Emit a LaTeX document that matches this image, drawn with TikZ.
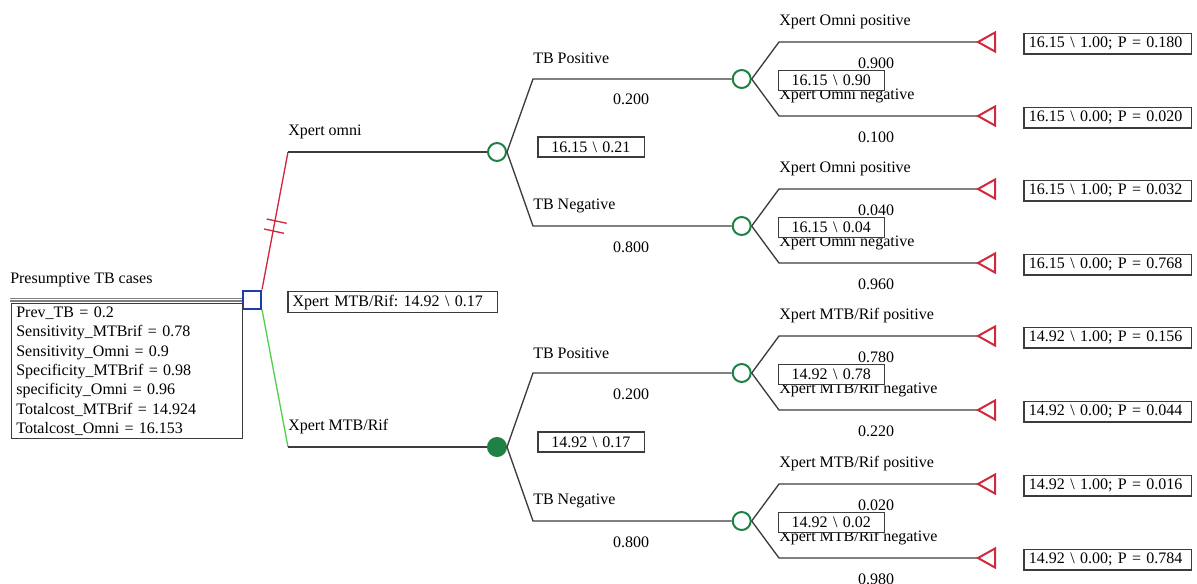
\documentclass[tikz,border=0pt]{standalone}
\usepackage{fontspec}
\setmainfont{Liberation Serif}
\frenchspacing
\definecolor{treegray}{RGB}{60,60,60}
\definecolor{cred}{RGB}{210,40,62}
\definecolor{lgreen}{RGB}{80,210,80}
\definecolor{cgreen}{RGB}{30,130,70}
\definecolor{cblue}{RGB}{30,60,170}
\begin{document}
\begin{tikzpicture}[x=0.75pt,y=-0.75pt,
  every node/.style={font=\fontsize{12}{14.5}\selectfont},
  tline/.style={draw=treegray,line width=1pt},
  chance/.style={circle,draw=cgreen,fill=white,line width=1.5pt,minimum size=13.5pt,inner sep=0pt},
  chancefill/.style={chance,fill=cgreen},
  decis/.style={rectangle,draw=cblue,fill=white,line width=1.5pt,minimum size=13.5pt,inner sep=0pt},
  termst/.style={draw=cred,line width=1.5pt,line join=miter},
  lbl/.style={inner sep=0pt,anchor=west},
  prob/.style={inner sep=0pt},
  resbox/.style={draw=treegray,fill=white,line width=1pt,anchor=west,inner xsep=3.75pt,inner ysep=0pt,text width=118.3pt,align=left,minimum height=15.5pt},
  valbox/.style={draw=treegray,fill=white,line width=1pt,anchor=west,inner xsep=10pt,inner ysep=0pt,text width=59.7pt,align=left,minimum height=15pt},
]
\useasboundingbox (0,0) rectangle (1197,583);

% ---- level-two chance subtree macro
\newcommand\lvtwo[9]{%
  \node[chance] (#1) at (741.7,#2) {};
  \coordinate (#1ku) at (779,#2-37);
  \coordinate (#1kd) at (779,#2+37);
  \coordinate (#1tu) at (978,#2-37);
  \coordinate (#1td) at (978,#2+37);
  \draw[tline] (#1.east) -- (#1ku) -- (#1tu);
  \draw[tline] (#1.east) -- (#1kd) -- (#1td);
  \draw[termst] (#1tu) -- ++(17,-9.5) -- ++(0,19) -- cycle;
  \draw[termst] (#1td) -- ++(17,-9.5) -- ++(0,19) -- cycle;
  \node[lbl] (#1lu) at (779,#2-57) {#3};
  \node[prob] (#1pu) at (876,#2-16) {#4};
  \node[lbl] (#1ld) at (779,#2+17) {#6};
  \node[prob] (#1pd) at (876,#2+58) {#7};
  \node[valbox] (#1v) at (777.7,#2+1.7) {#5};
  \node[resbox] (#1r1) at (1023.3,#2-35.3) {#8};
  \node[resbox] (#1r2) at (1023.3,#2+38.7) {#9};
}

% ---- root
\node[lbl] (title) at (10,280) {Presumptive TB cases};
\node[decis] (root) at (252,299.5) {};
\coordinate (dl1) at (10,298.5);
\coordinate (dl2) at (10,301);
\draw[draw=gray,line width=1pt] (dl1) -- (dl1 -| root.west);
\draw[draw=gray,line width=1pt] (dl2) -- (dl2 -| root.west);
\node[draw=treegray,line width=1pt,anchor=north west,inner xsep=3.5pt,inner ysep=1pt,
      text width=166.25pt,align=left,minimum height=101.25pt] (summ) at (11,303)
  {Prev\_TB = 0.2\\
   Sensitivity\_MTBrif = 0.78\\
   Sensitivity\_Omni = 0.9\\
   Specificity\_MTBrif = 0.98\\
   specificity\_Omni = 0.96\\
   Totalcost\_MTBrif = 14.924\\
   Totalcost\_Omni = 16.153};

% ---- first chance nodes
\node[chance] (c1) at (497,152) {};
\node[chancefill] (c2) at (497,447) {};
\coordinate (k1) at (288,152);
\coordinate (k2) at (288,447);
\draw[draw=cred,line width=1pt] (root.north east) -- (k1);
\draw[tline] (k1) -- (c1.west);
\draw[draw=lgreen,line width=1pt] (root.south east) -- (k2);
\draw[tline] (k2) -- (c2.west);
% hash marks
\coordinate (h1a) at (266.7,219);
\coordinate (h1b) at (286.7,223.3);
\coordinate (h2a) at (264,229);
\coordinate (h2b) at (284,233.3);
\draw[draw=cred,line width=1pt] (h1a) -- (h1b);
\draw[draw=cred,line width=1pt] (h2a) -- (h2b);
\node[lbl] (lomni) at (288,132) {Xpert omni};
\node[lbl] (lmtb) at (288,427) {Xpert MTB/Rif};
\node[draw=treegray,fill=white,line width=1pt,anchor=west,inner xsep=3.5pt,inner ysep=0pt,
      text width=150pt,align=left,minimum height=15.75pt] (best) at (287.3,302.2)
  {Xpert MTB/Rif: 14.92 \textbackslash{} 0.17};

% ---- level-two subtrees
\lvtwo{c11}{79}{Xpert Omni positive}{0.900}{16.15 \textbackslash{} 0.90}{Xpert Omni negative}{0.100}{16.15 \textbackslash{} 1.00; P = 0.180}{16.15 \textbackslash{} 0.00; P = 0.020}
\lvtwo{c12}{226}{Xpert Omni positive}{0.040}{16.15 \textbackslash{} 0.04}{Xpert Omni negative}{0.960}{16.15 \textbackslash{} 1.00; P = 0.032}{16.15 \textbackslash{} 0.00; P = 0.768}
\lvtwo{c21}{373}{Xpert MTB/Rif positive}{0.780}{14.92 \textbackslash{} 0.78}{Xpert MTB/Rif negative}{0.220}{14.92 \textbackslash{} 1.00; P = 0.156}{14.92 \textbackslash{} 0.00; P = 0.044}
\lvtwo{c22}{521}{Xpert MTB/Rif positive}{0.020}{14.92 \textbackslash{} 0.02}{Xpert MTB/Rif negative}{0.980}{14.92 \textbackslash{} 1.00; P = 0.016}{14.92 \textbackslash{} 0.00; P = 0.784}

% ---- level-one branches
\coordinate (k1u) at (533,79);
\coordinate (k1d) at (533,226);
\coordinate (k2u) at (533,373);
\coordinate (k2d) at (533,521);
\draw[tline] (c1.east) -- (k1u) -- (c11.west);
\draw[tline] (c1.east) -- (k1d) -- (c12.west);
\draw[tline] (c2.east) -- (k2u) -- (c21.west);
\draw[tline] (c2.east) -- (k2d) -- (c22.west);
\node[lbl] (l1u) at (533,58) {TB Positive};
\node[prob] (p1u) at (631,99) {0.200};
\node[lbl] (l1d) at (533,206) {TB Negative};
\node[prob] (p1d) at (631,247) {0.800};
\node[valbox] (v1) at (537.3,147) {16.15 \textbackslash{} 0.21};
\node[lbl] (l2u) at (533,353) {TB Positive};
\node[prob] (p2u) at (631,394) {0.200};
\node[lbl] (l2d) at (533,501) {TB Negative};
\node[prob] (p2d) at (631,542) {0.800};
\node[valbox] (v2) at (537.3,442) {14.92 \textbackslash{} 0.17};
\end{tikzpicture}
\end{document}
